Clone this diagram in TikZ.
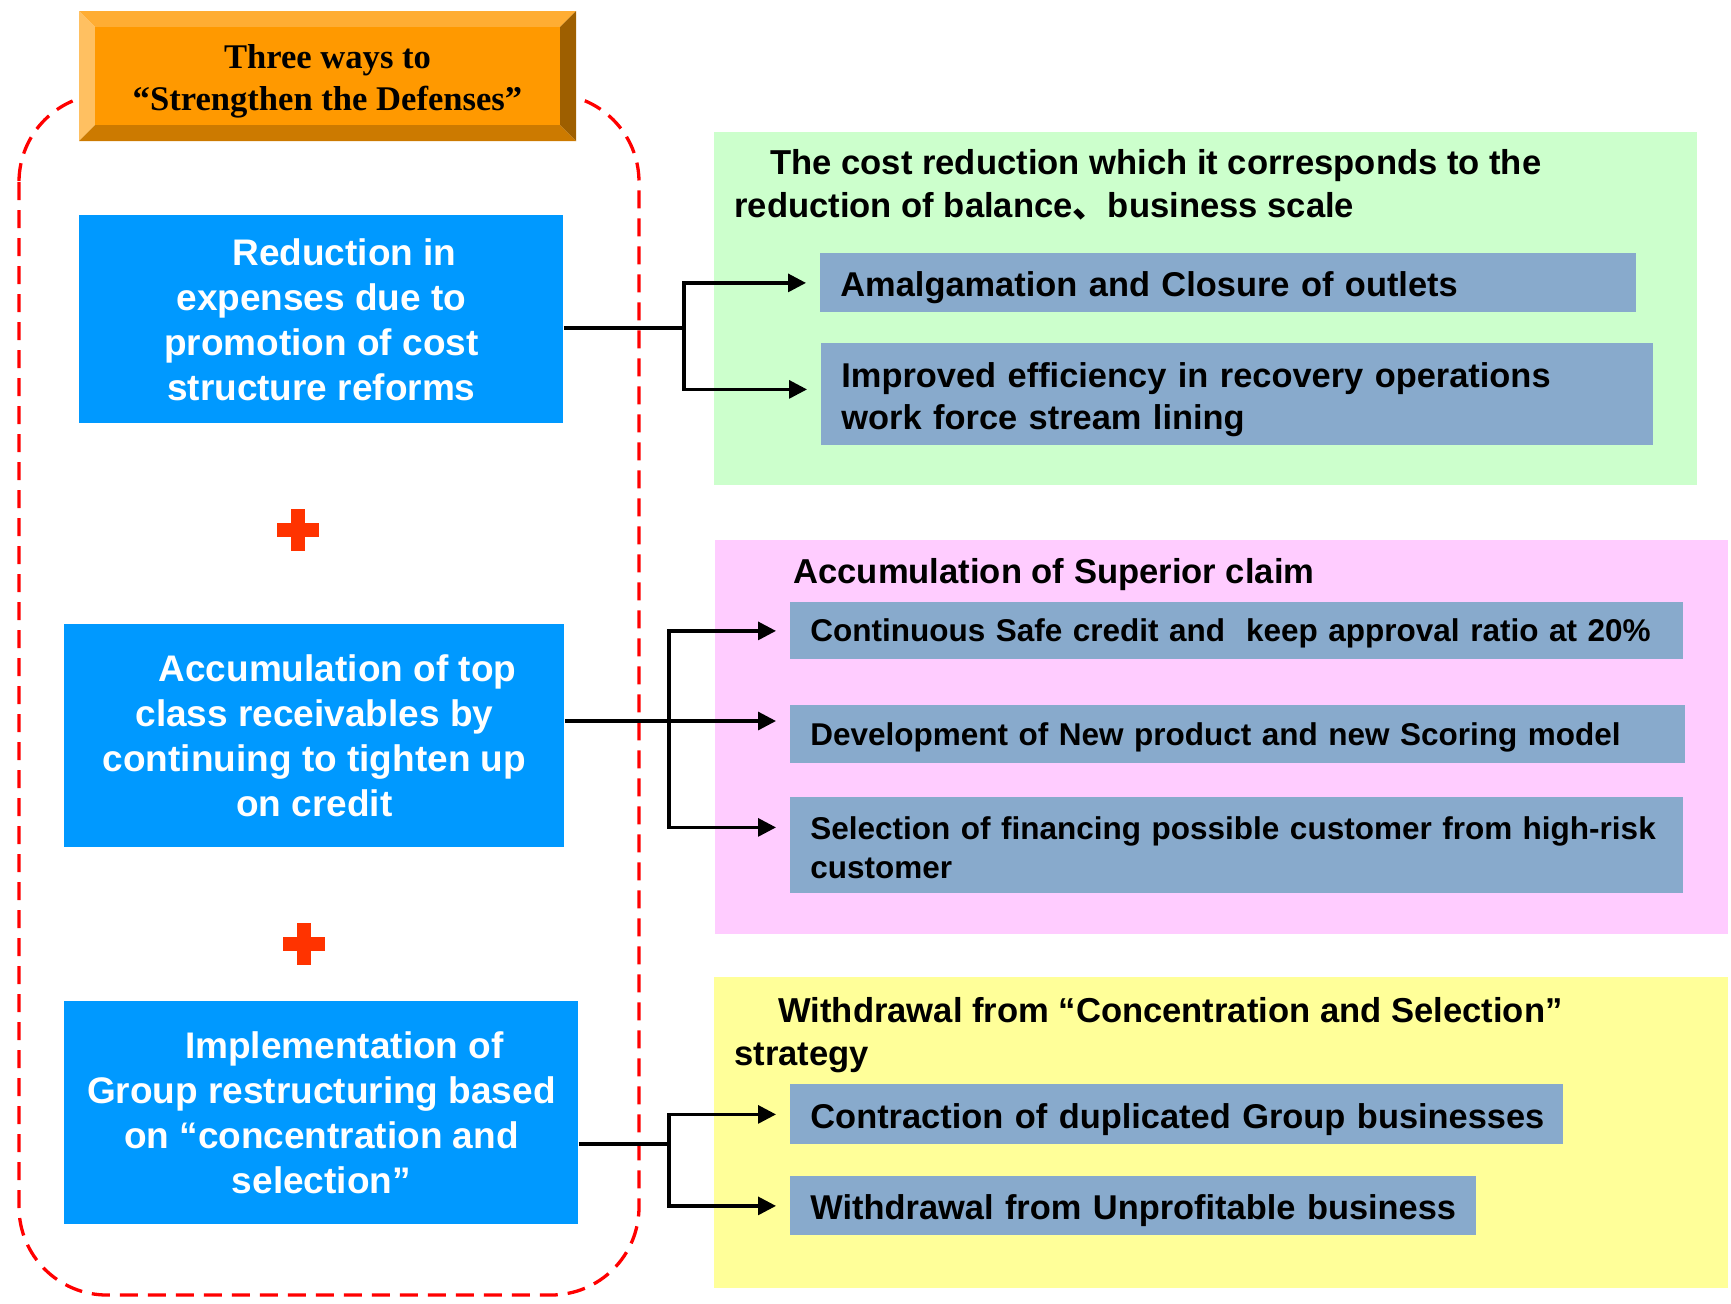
\documentclass[tikz,border=0pt]{standalone}
\usepackage{fontspec}
\setmainfont{Liberation Sans}
\newfontfamily\ttlfont{Liberation Serif}
\newfontfamily\cjk{Noto Sans CJK SC}
\usetikzlibrary{arrows.meta}
\definecolor{wayblue}{HTML}{0099FF}
\definecolor{itmgray}{HTML}{88AACC}
\definecolor{pnlgreen}{HTML}{CCFFCC}
\definecolor{pnlpink}{HTML}{FFCCFF}
\definecolor{pnlyellow}{HTML}{FFFF99}
\definecolor{plusred}{HTML}{FF3300}
\definecolor{ttlface}{HTML}{FF9900}
\begin{document}
\begin{tikzpicture}[x=0.5pt, y=-0.5pt,
  way/.style={fill=wayblue, text=white, font=\bfseries\fontsize{18.5}{22.5}\selectfont, align=center, anchor=north west, inner sep=0pt},
  itm/.style={fill=itmgray, font=\bfseries\fontsize{17.2}{21}\selectfont, align=left, anchor=north west, inner xsep=10pt, inner ysep=0pt,
    execute at begin node={\rule{0pt}{#1}}},
  itm/.default=17.5pt,
  sml/.style={font=\bfseries\fontsize{15.75}{19.5}\selectfont},
  hdr/.style={font=\bfseries\fontsize{17.3}{21.5}\selectfont, align=left, anchor=west, inner sep=0pt},
  conn/.style={line width=1.6pt, line join=miter},
  tip/.style={-{Triangle[length=9pt,width=9pt]}},
  frame/.style={red, line width=1.65pt, dash pattern=on 9pt off 5pt, rounded corners=44pt}]
\useasboundingbox (0,0) rectangle (1731,1303);

% panels on the right
\fill[pnlgreen] (714,132) rectangle (1697,485);
\fill[pnlpink] (715,540) rectangle (1728,934);
\fill[pnlyellow] (714,977) rectangle (1728,1288);

% dashed frame round the three ways
\draw[frame] (19,94) rectangle (639,1295);

% bevelled title
\fill[ttlface!80!white] (79,11) -- (576,11) -- (560,27) -- (95,27) -- cycle;
\fill[ttlface!62!white] (79,11) -- (95,27) -- (95,125) -- (79,141) -- cycle;
\fill[ttlface!62!black] (576,11) -- (576,141) -- (560,125) -- (560,27) -- cycle;
\fill[ttlface!80!black] (79,141) -- (576,141) -- (560,125) -- (95,125) -- cycle;
\fill[ttlface] (95,27) rectangle (560,125);
\node[font=\ttlfont\bfseries\fontsize{17.3}{21}\selectfont, align=center] (defense) at (327.5,81.5) {Three ways to\\“Strengthen the Defenses”};

% the three ways
\node[way, minimum width=242pt, minimum height=104pt] (b1) at (79,215) {\hspace*{23pt}Reduction in\\expenses due to\\promotion of cost\\structure reforms};
\node[way, minimum width=250pt, minimum height=111.5pt] (b2) at (64,624) {\hspace*{23pt}Accumulation of top\\class receivables by\\continuing to tighten up\\on credit};
\node[way, minimum width=257pt, minimum height=111.5pt] (b3) at (64,1001) {\hspace*{23pt}Implementation of\\Group restructuring based\\on “concentration and\\selection”};

\foreach \px/\py in {298/530, 304/944}{
  \fill[plusred] (\px-21,\py-7) rectangle (\px+21,\py+7);
  \fill[plusred] (\px-7,\py-21) rectangle (\px+7,\py+21);}

% headers
\node[hdr] (ghdr) at (734,185) {\hspace*{18pt}The cost reduction which it corresponds to the\\reduction of balance{\cjk 、}\hspace{-4.5pt} business scale};
\node[hdr] (phdr) at (793,575) {Accumulation of Superior claim};
\node[hdr] (yhdr) at (734,1035) {\hspace*{22pt}Withdrawal from “Concentration and Selection”\\strategy};

% items
\node[itm, text width=388pt, minimum height=29.5pt] (g1) at (820,253) {\mbox{Amalgamation and Closure of outlets}};
\node[itm, text width=396pt, minimum height=51pt] (g2) at (821,343) {\mbox{Improved efficiency in recovery operations}\\\mbox{work force stream lining}};
\node[itm=14.2pt, sml, text width=426.5pt, minimum height=28.5pt] (p1) at (790,602) {\mbox{Continuous Safe credit and \ keep approval ratio at 20\%}};
\node[itm=14.2pt, sml, text width=427.5pt, minimum height=29pt] (p2) at (790,705) {\mbox{Development of New product and new Scoring model}};
\node[itm=14.2pt, sml, text width=426.5pt, minimum height=48pt] (p3) at (790,797) {\mbox{Selection of financing possible customer from high-risk}\\\mbox{customer}};
\node[itm, text width=366.5pt, minimum height=30pt] (y1) at (790,1084) {\mbox{Contraction of duplicated Group businesses}};
\node[itm, text width=323pt, minimum height=29.5pt] (y2) at (790,1176) {\mbox{Withdrawal from Unprofitable business}};

% connectors
\coordinate (j1) at (684,328);
\coordinate (j2) at (669,721);
\coordinate (j3) at (669,1144);
\draw[conn] (b1.east |- j1) -- (j1);
\draw[conn,tip] (j1) |- ([xshift=-7pt]g1.west);
\draw[conn,tip] (j1) |- ([xshift=-7pt,yshift=2.5pt]g2.west);
\draw[conn] (b2.east |- j2) -- (j2);
\draw[conn,tip] (j2) |- ([xshift=-7pt]p1.west);
\draw[conn,tip] (j2) -- ([xshift=-7pt]p2.west |- j2);
\draw[conn,tip] (j2) |- ([xshift=-7pt,yshift=9pt]p3.west);
\draw[conn] (b3.east |- j3) -- (j3);
\draw[conn,tip] (j3) |- ([xshift=-7pt]y1.west);
\draw[conn,tip] (j3) |- ([xshift=-7pt]y2.west);
\end{tikzpicture}
\end{document}
